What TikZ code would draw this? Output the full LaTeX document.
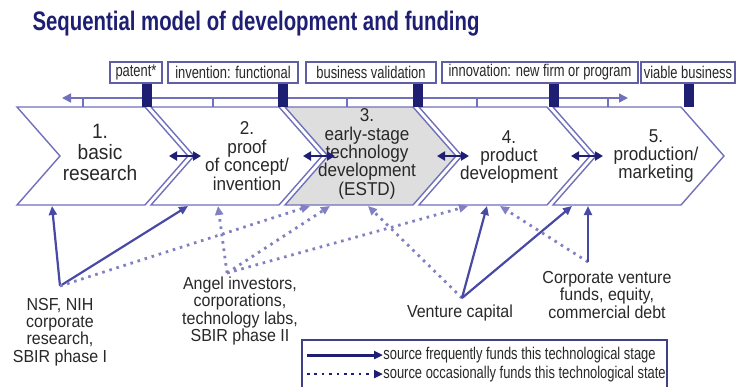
\documentclass[tikz,border=0pt]{standalone}
\usepackage{fontspec}
\setmainfont{Liberation Sans}[FakeStretch=0.92]
\newfontfamily\narrowfont{Liberation Sans}[FakeStretch=0.76]
\newfontfamily\titlefont{Liberation Sans}[FakeStretch=0.76]
\usetikzlibrary{arrows.meta,calc,positioning}
\definecolor{navy}{RGB}{30,30,115}
\definecolor{edge}{RGB}{112,112,188}
\definecolor{tagline}{RGB}{95,95,165}
\definecolor{fund}{RGB}{72,72,165}
\definecolor{dots}{RGB}{128,128,195}
\definecolor{ink}{RGB}{40,40,40}
\definecolor{shade}{RGB}{222,222,222}
\tikzset{
  chev/.style={draw=edge,line width=0.7pt,line join=miter},
  tag/.style={draw=tagline,line width=0.9pt,fill=white,inner sep=0.5pt,minimum height=10.5pt,
    font=\narrowfont\fontsize{8.5}{10}\selectfont,text=ink},
  stage/.style={align=center,text=ink,font=\fontsize{9.3}{9.2}\selectfont},
  source/.style={align=center,text=ink,font=\fontsize{8.7}{8.6}\selectfont},
  key/.style={inner sep=0pt,text=ink,font=\narrowfont\fontsize{8.5}{9}\selectfont},
  often/.style={fund,line width=1.1pt,-{Triangle[length=4.5pt,width=4pt]}},
  seldom/.style={dots,line width=1.4pt,dash pattern=on 1.3pt off 2.4pt,-{Triangle[length=4.5pt,width=4pt]}},
  link/.style={navy,line width=1.3pt,{Triangle[length=4pt,width=4.5pt]}-{Triangle[length=4pt,width=4.5pt]}},
  timeline/.style={edge,line width=0.8pt,{Triangle[length=4.5pt,width=4.5pt]}-{Triangle[length=4.5pt,width=4.5pt]}}
}
\begin{document}
\begin{tikzpicture}[x=0.5pt,y=-0.5pt]
  \useasboundingbox (0,0) rectangle (741,387);
  \node[text=navy,font=\titlefont\bfseries\fontsize{13.4}{15}\selectfont] (title) at (256,24)
    {Sequential model of development and funding};

  \foreach \i/\x/\f in {1/17/white,2/151/white,3/285/shade,4/419/white,5/553/white} {
    \draw[chev,fill=\f] (\x,107) -- ++(128,0) -- ++(43,49) -- ++(-43,49) -- ++(-128,0) -- ++(43,-49) -- cycle;
    \coordinate (ch\i) at (\x,205);
    \coordinate (tip\i) at (\x+171,156);
  }

  \draw[timeline] (62,98) -- (628,98);
  \foreach \x in {83,213,347,477,608}
    \draw[edge,line width=0.7pt] (\x,98) -- (\x,107);
  \foreach \x in {147,283,418,554,689}
    \fill[navy] (\x-5,83) rectangle (\x+5,107);

  \node[tag,minimum width=26pt] (patent) at (136,72.5) {patent*};
  \node[tag,minimum width=65pt] (functional) at (233,72.5) {invention: functional};
  \node[tag,minimum width=65pt] (validation) at (371,72.5) {business validation};
  \node[tag,minimum width=98pt] (newfirm) at (540,72.5) {innovation: new firm or program};
  \node[tag,minimum width=47pt] (viable) at (688,72.5) {viable business};

  \node[stage,font=\fontsize{10.4}{10.5}\selectfont] (c1) at (100,152) {1.\\basic\\research};
  \node[stage] (c2) at (247,156) {2.\\proof\\of concept/\\invention};
  \node[stage] (c3) at (367,154) {3.\\early-stage\\technology\\development\\(ESTD)};
  \node[stage] (c4) at (509,157) {4.\\product\\development};
  \node[stage] (c5) at (656,156) {5.\\production/\\marketing};

  \foreach \i in {1,...,4}
    \draw[link] ($(tip\i)+(-19,0)$) -- ($(tip\i)+(13,0)$);

  \coordinate (nsfp) at (60,286);
  \node[source] (nsf) at (60,332) {NSF, NIH\\corporate\\research,\\SBIR phase I};
  \coordinate (angelp) at (227,273);
  \node[source] (angel) at (240,311) {Angel investors,\\corporations,\\technology labs,\\SBIR phase II};
  \coordinate (vcp) at (462,298);
  \node[source] (vc) at (460,313) {Venture capital};
  \coordinate (corpp) at (588,262);
  \node[source] (corp) at (607,295) {Corporate venture\\funds, equity,\\commercial debt};

  \draw[often] (nsfp) -- ($(ch1)+(35,1)$);
  \draw[often] (nsfp) -- ($(ch2)+(37,1)$);
  \draw[seldom] (nsfp) -- ($(ch3)+(25,1)$);
  \draw[seldom] (angelp) -- ($(ch2)+(67,1)$);
  \draw[seldom] (angelp) -- ($(ch3)+(45,1)$);
  \draw[seldom] (angelp) -- ($(ch4)+(49,1)$);
  \draw[seldom] (vcp) -- ($(ch3)+(83,1)$);
  \draw[often] (vcp) -- ($(ch4)+(68,1)$);
  \draw[often] (vcp) -- ($(ch5)+(19,1)$);
  \draw[seldom] (corpp) -- ($(ch4)+(81,1)$);
  \draw[often] (corpp) -- ($(ch5)+(35,1)$);

  \draw[navy!85,line width=1pt] (302,387) |- (667,340) -- (667,387);
  \node[key,anchor=west] (freq) at (383,355) {source frequently funds this technological stage};
  \node[key,anchor=west] (occ) at (383,374) {source occasionally funds this technological state};
  \draw[often,navy,line width=1.5pt] ($(freq.west)+(-76,0)$) -- (freq.west);
  \draw[seldom,navy] ($(occ.west)+(-76,0)$) -- (occ.west);
\end{tikzpicture}
\end{document}
